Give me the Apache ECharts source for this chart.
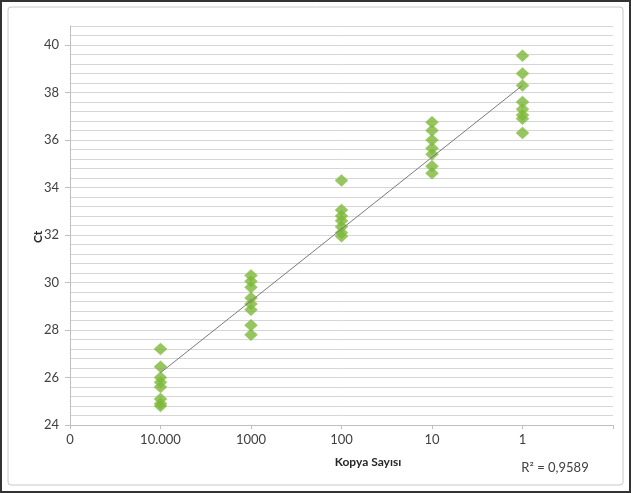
<!DOCTYPE html>
<html>
<head>
<meta charset="utf-8">
<script src="https://cdn.jsdelivr.net/npm/echarts@6/dist/echarts.min.js"></script>
<style>
html,body{margin:0;padding:0;background:#fff;}
#c{width:631px;height:493px;}
</style>
</head>
<body>
<div id="c"></div>
<script>
// Category positions on x axis and their labels
var xTickLabels = ['0', '10.000', '1000', '100', '10', '1', ''];
var yLabelValues = [24, 26, 28, 30, 32, 34, 36, 38, 40];

// Ct values per copy-number group (x position 1..5)
var groupX = [1, 2, 3, 4, 5];
var ct10000 = [27.2, 26.45, 26.0, 25.8, 25.6, 25.1, 24.9, 24.8];
var ct1000  = [30.3, 30.05, 29.8, 29.35, 29.1, 28.85, 28.2, 27.8];
var ct100   = [34.3, 33.05, 32.8, 32.6, 32.35, 32.1, 31.95];
var ct10    = [36.75, 36.4, 36.0, 35.65, 35.4, 34.9, 34.6];
var ct1     = [39.55, 38.8, 38.3, 37.6, 37.3, 37.05, 36.9, 36.3];

// Trend line end points
var trendX = [1, 5];
var trendY = [26.2, 38.3];
var r2Text = 'R² = 0,9589';

var groups = [ct10000, ct1000, ct100, ct10, ct1];
var points = [];
groups.forEach(function (g, i) {
  g.forEach(function (v) { points.push([groupX[i], v]); });
});
var trendData = trendX.map(function (x, i) { return [x, trendY[i]]; });

var font = 'Lato, "Liberation Sans", sans-serif';
var chart = echarts.init(document.getElementById('c'), null, {renderer: 'canvas'});
chart.setOption({
  animation: false,
  backgroundColor: '#fff',
  grid: {left: 70, right: 18, top: 26, bottom: 68, containLabel: false},
  xAxis: {
    type: 'value', min: 0, max: 6, interval: 1,
    axisLine: {show: true, lineStyle: {color: '#bfbfbf', width: 1}},
    axisTick: {show: true, length: 4, lineStyle: {color: '#bfbfbf'}},
    splitLine: {show: false},
    axisLabel: {
      color: '#404040', fontSize: 13, fontFamily: font, margin: 8,
      formatter: function (v) { return xTickLabels[Math.round(v)] || ''; }
    }
  },
  yAxis: [
    {
      type: 'value', min: 24, max: 40.8, interval: 0.4,
      axisLine: {show: true, lineStyle: {color: '#bfbfbf', width: 1}},
      axisTick: {show: false},
      splitLine: {show: true, lineStyle: {color: '#d6d6d6', width: 1}},
      axisLabel: {show: false}
    },
    {
      type: 'value', min: 24, max: 40.8, interval: 0.4, position: 'left',
      axisLine: {show: false},
      axisTick: {show: true, length: 5, customValues: yLabelValues, lineStyle: {color: '#bfbfbf'}},
      splitLine: {show: false},
      axisLabel: {
        color: '#404040', fontSize: 13, fontFamily: font, margin: 11,
        customValues: yLabelValues,
        formatter: function (v) { return String(Math.round(v)); }
      }
    }
  ],
  series: [
    {
      type: 'scatter', data: points, symbol: 'diamond', symbolSize: [13, 12],
      itemStyle: {color: '#7db83a', borderColor: '#8cc44a', borderWidth: 0.5},
      z: 2
    },
    {
      type: 'line', data: trendData, symbol: 'none',
      lineStyle: {color: '#7a7a7a', width: 1}, z: 3, silent: true
    }
  ],
  graphic: [
    {type: 'rect', shape: {x: 1, y: 1, width: 629, height: 491},
     style: {fill: 'none', stroke: '#333', lineWidth: 2}, z: 100},
    {type: 'rect', shape: {x: 8, y: 7, width: 615, height: 478, r: 3},
     style: {fill: 'none', stroke: '#c8c8c8', lineWidth: 1}, z: 100},
    {type: 'text', x: 368, y: 462,
     style: {text: 'Kopya Sayısı', font: 'bold 12px ' + font, fill: '#262626', align: 'center', verticalAlign: 'middle'}},
    {type: 'text', x: 555, y: 468,
     style: {text: r2Text, font: '13px ' + font, fill: '#404040', align: 'center', verticalAlign: 'middle'}},
    {type: 'text', x: 38, y: 237, rotation: Math.PI / 2,
     style: {text: 'Ct', font: 'bold 12px ' + font, fill: '#262626', align: 'center', verticalAlign: 'middle'}}
  ]
});
</script>
</body>
</html>
